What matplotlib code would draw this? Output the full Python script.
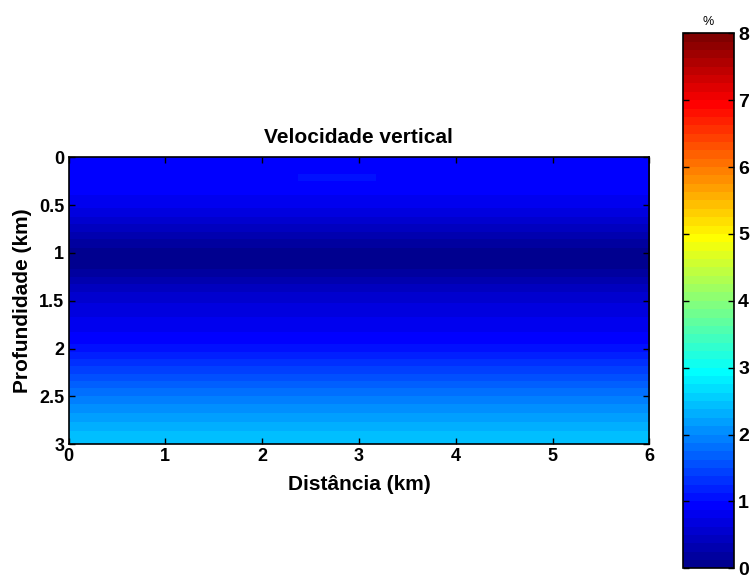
import numpy as np
import matplotlib
matplotlib.use("Agg")
import matplotlib.pyplot as plt
from matplotlib.colors import ListedColormap, Normalize

# ---- data ----
depth_km = [0.0, 0.1, 0.2, 0.3, 0.4, 0.5, 0.6, 0.7, 0.8, 0.9, 1.0,
            1.1, 1.2, 1.3, 1.4, 1.5, 1.6, 1.7, 1.8, 1.9, 2.0,
            2.1, 2.2, 2.3, 2.4, 2.5, 2.6, 2.7, 2.8, 2.9, 3.0]
velocity_pct = [0.95, 0.95, 0.94, 0.92, 0.88, 0.80, 0.68, 0.52, 0.36, 0.20, 0.07,
                0.04, 0.15, 0.33, 0.48, 0.60, 0.69, 0.77, 0.85, 0.93, 1.05,
                1.22, 1.40, 1.55, 1.72, 1.88, 2.02, 2.15, 2.30, 2.42, 2.50]
distance_km = [0.0, 6.0]
anomaly_x = [2.37, 3.18]
anomaly_depth = [0.17, 0.25]
anomaly_value = [1.02]
xticks = [0, 1, 2, 3, 4, 5, 6]
yticks = [0, 0.5, 1, 1.5, 2, 2.5, 3]
ytick_labels = ["0", "0.5", "1", "1.5", "2", "2.5", "3"]
cbar_ticks = [0, 1, 2, 3, 4, 5, 6, 7, 8]
clim = (0, 8)


def matlab_jet(m=64):
    n = int(np.ceil(m / 4))
    u = np.concatenate([np.arange(1, n + 1) / n, np.ones(n - 1), np.arange(n, 0, -1) / n])
    g = int(np.ceil(n / 2)) - (1 if m % 4 == 1 else 0) + np.arange(1, len(u) + 1)
    r = g + n
    b = g - n
    J = np.zeros((m, 3))
    for idx, col in ((r, 0), (g, 1), (b, 2)):
        mask = (idx >= 1) & (idx <= m)
        J[idx[mask] - 1, col] = u[mask]
    return ListedColormap(J)


plt.rcParams['font.family'] = ['Liberation Sans', 'DejaVu Sans']
plt.rcParams['font.weight'] = 'bold'

cmap = matlab_jet(64)
norm = Normalize(*clim)

fig = plt.figure(figsize=(7.53, 5.76), dpi=100)
ax = fig.add_axes([0.0910, 0.2286, 0.7713, 0.4983])
cax = fig.add_axes([0.9074, 0.01337, 0.0673, 0.9288])

prof = np.array(velocity_pct)
field = np.column_stack([prof, prof])
dd = depth_km[1] - depth_km[0]
im = ax.imshow(field, cmap=cmap, norm=norm, aspect='auto',
               interpolation='bilinear', interpolation_stage='data',
               extent=(distance_km[0], distance_km[1],
                       depth_km[-1] + dd / 2, depth_km[0] - dd / 2))
ax.pcolormesh(anomaly_x, anomaly_depth, np.array([anomaly_value]),
              cmap=cmap, norm=norm, shading='flat')

ax.set_xlim(distance_km[0], distance_km[1])
ax.set_ylim(3, 0)
ax.set_xticks(xticks)
ax.set_yticks(yticks)
ax.set_yticklabels(ytick_labels)
ax.tick_params(direction='in', top=True, right=True, length=4, width=1,
               labelsize=13, pad=3)
for s in ax.spines.values():
    s.set_linewidth(1.2)
ax.set_title('Velocidade vertical', fontsize=15, fontweight='bold', pad=10)
ax.set_xlabel('Distância (km)', fontsize=15, fontweight='bold', labelpad=7)
ax.set_ylabel('Profundidade (km)', fontsize=15, fontweight='bold', labelpad=5)

cb = fig.colorbar(im, cax=cax, ticks=cbar_ticks)
cb.outline.set_linewidth(1.2)
cax.tick_params(direction='in', left=True, right=True, length=4, width=1,
                labelsize=14, pad=3)
for lbl in cax.get_yticklabels():
    lbl.set_fontweight('bold')
cax.set_title('%', fontsize=9, fontweight='normal', pad=6)

fig.savefig('out.png', dpi=100)
